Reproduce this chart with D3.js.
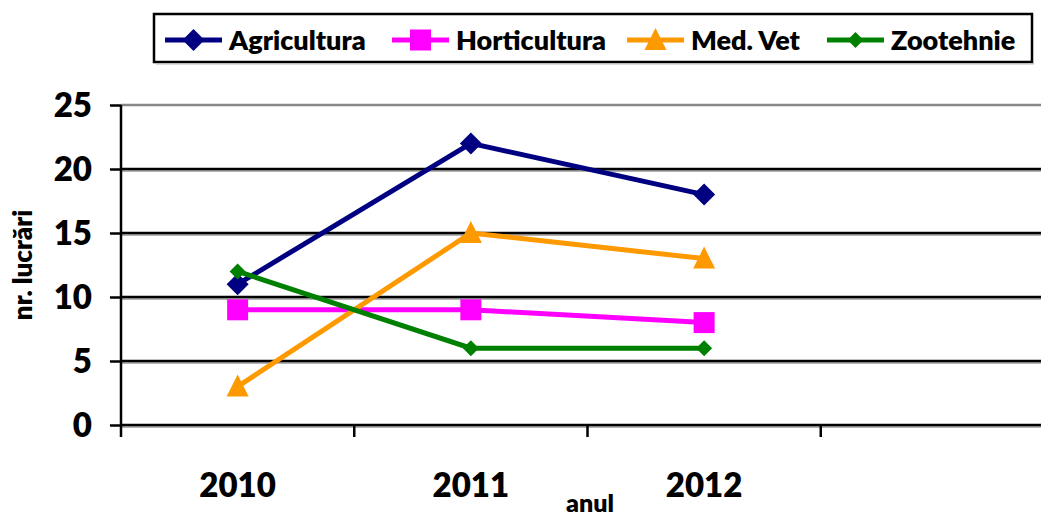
<!DOCTYPE html>
<html>
<head>
<meta charset="utf-8">
<script src="https://cdn.jsdelivr.net/npm/d3@7"></script>
<style>
  body { margin: 0; background: #fff; }
  svg { display: block; font-family: Lato, "Open Sans", sans-serif; font-weight: 800; }
</style>
</head>
<body>
<div id="chart"></div>
<script>
const years = ['2010', '2011', '2012', '']
const seriesNames = ['Agricultura', 'Horticultura', 'Med. Vet', 'Zootehnie']
const agricultura = [11, 22, 18]
const horticultura = [9, 9, 8]
const medVet = [3, 15, 13]
const zootehnie = [12, 6, 6]
const yTicks = [0, 5, 10, 15, 20, 25]

const width = 1041
const height = 517
const plot = {left: 121, right: 1054, top: 105, bottom: 425}

const colors = ['#000080', '#ff00ff', '#ff9900', '#008000']
const shapes = ['diamond', 'square', 'triangle', 'smallDiamond']
const seriesValues = [agricultura, horticultura, medVet, zootehnie]

const x = d3.scaleBand().domain(years).range([plot.left, plot.right])
const y = d3.scaleLinear().domain([0, 25]).range([plot.bottom, plot.top])

const svg = d3.select('#chart').append('svg')
  .attr('width', width)
  .attr('height', height)

// grid lines with a light shadow underneath
const grid = svg.append('g')
yTicks.forEach(t => {
  if (t === 25) {
    grid.append('line')
      .attr('x1', plot.left).attr('x2', width)
      .attr('y1', y(t)).attr('y2', y(t))
      .attr('stroke', '#888').attr('stroke-width', 2.5)
    return
  }
  grid.append('line')
    .attr('x1', plot.left).attr('x2', width)
    .attr('y1', y(t) + 2).attr('y2', y(t) + 2)
    .attr('stroke', '#999').attr('stroke-width', 1.5)
  grid.append('line')
    .attr('x1', plot.left).attr('x2', width)
    .attr('y1', y(t)).attr('y2', y(t))
    .attr('stroke', '#000').attr('stroke-width', 2.5)
})

// y axis
const yAxis = svg.append('g')
  .attr('transform', `translate(${plot.left},0)`)
  .call(d3.axisLeft(y).tickValues(yTicks).tickSize(11).tickPadding(18))
yAxis.select('.domain').remove()
yAxis.selectAll('.tick line').attr('stroke', '#000').attr('stroke-width', 2.5)
yAxis.selectAll('.tick text')
  .attr('font-size', 33).attr('font-family', 'Lato, sans-serif')
  .attr('font-weight', 800).attr('fill', '#000').attr('dy', '0.36em')
svg.append('line')
  .attr('x1', plot.left).attr('x2', plot.left)
  .attr('y1', plot.top).attr('y2', plot.bottom + 12)
  .attr('stroke', '#000').attr('stroke-width', 2.5)

// x axis ticks between categories
const xTickPos = years.map(d => x(d)).filter(p => p > plot.left)
svg.append('g').selectAll('line')
  .data(xTickPos)
  .join('line')
  .attr('x1', d => d).attr('x2', d => d)
  .attr('y1', plot.bottom).attr('y2', plot.bottom + 12)
  .attr('stroke', '#000').attr('stroke-width', 2.5)

svg.append('g').selectAll('text')
  .data(years.filter(d => d))
  .join('text')
  .attr('x', d => x(d) + x.bandwidth() / 2)
  .attr('y', 497)
  .attr('text-anchor', 'middle')
  .attr('font-size', 33)
  .text(d => d)

// axis titles
svg.append('text')
  .attr('x', 590).attr('y', 512)
  .attr('text-anchor', 'middle')
  .attr('font-size', 25)
  .text('anul')

svg.append('text')
  .attr('transform', 'translate(32,265) rotate(-90)')
  .attr('text-anchor', 'middle')
  .attr('font-size', 26)
  .text('nr. lucrări')

function drawMarker(g, shape, color) {
  if (shape === 'diamond') {
    g.append('path').attr('d', 'M0,-11L11,0L0,11L-11,0Z').attr('fill', color)
  } else if (shape === 'smallDiamond') {
    g.append('path').attr('d', 'M0,-8L8,0L0,8L-8,0Z').attr('fill', color)
  } else if (shape === 'square') {
    g.append('rect').attr('x', -10.5).attr('y', -10.5).attr('width', 21).attr('height', 21).attr('fill', color)
  } else {
    g.append('path').attr('d', 'M0,-12L11,10L-11,10Z').attr('fill', color)
  }
}

// lines and markers
const line = d3.line()
  .x((d, i) => x(years[i]) + x.bandwidth() / 2)
  .y(d => y(d))

seriesValues.forEach((vals, s) => {
  svg.append('path')
    .datum(vals)
    .attr('d', line)
    .attr('fill', 'none')
    .attr('stroke', colors[s])
    .attr('stroke-width', 5)
  vals.forEach((v, i) => {
    const g = svg.append('g')
      .attr('transform', `translate(${x(years[i]) + x.bandwidth() / 2},${y(v)})`)
    drawMarker(g, shapes[s], colors[s])
  })
})

// legend
const legend = svg.append('g')
legend.append('rect')
  .attr('x', 154).attr('y', 14)
  .attr('width', 878).attr('height', 48)
  .attr('fill', '#fff').attr('stroke', '#000').attr('stroke-width', 2.5)
legend.append('rect')
  .attr('x', 156).attr('y', 63)
  .attr('width', 878).attr('height', 1.5)
  .attr('fill', '#bbb')

const legendX = [165, 392, 627, 827]
seriesNames.forEach((name, s) => {
  const g = legend.append('g').attr('transform', `translate(${legendX[s]},40)`)
  g.append('line')
    .attr('x1', 0).attr('x2', 57)
    .attr('stroke', colors[s]).attr('stroke-width', 5)
  drawMarker(g.append('g').attr('transform', 'translate(28.5,0)'), shapes[s], colors[s])
  g.append('text')
    .attr('x', 64).attr('y', 0).attr('dy', '0.36em')
    .attr('font-size', 27)
    .text(name)
})
</script>
</body>
</html>
